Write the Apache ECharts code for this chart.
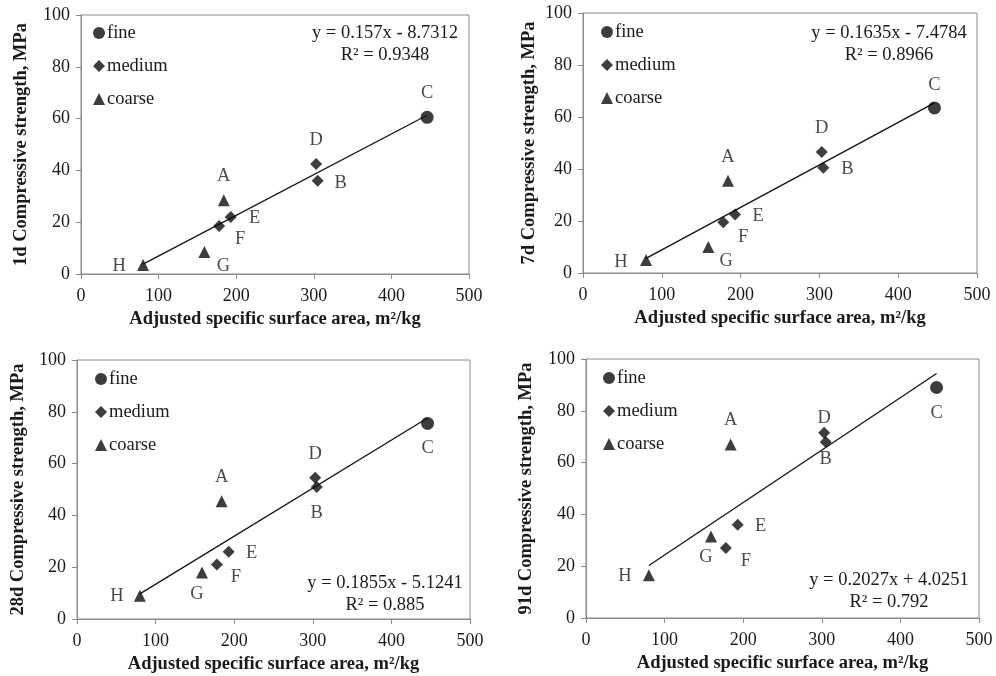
<!DOCTYPE html>
<html>
<head>
<meta charset="utf-8">
<script src="https://cdn.jsdelivr.net/npm/echarts@6/dist/echarts.min.js"></script>
<style>
  html, body { margin: 0; padding: 0; background: #fff; }
  #chart { width: 996px; height: 676px; }
</style>
</head>
<body>
<div id="chart"></div>
<script>
// Mixes A–H: adjusted specific surface area (m²/kg) and grading class
const mixes = ['A', 'B', 'C', 'D', 'E', 'F', 'G', 'H'];
const surfaceArea = [184, 305, 446, 303, 193, 178, 159, 80];
const grading = ['coarse', 'medium', 'fine', 'medium', 'medium', 'medium', 'coarse', 'coarse'];

// Compressive strength (MPa) at each age
const ages = ['1d', '7d', '28d', '91d'];
const strength1d = [28.5, 36, 60.5, 42.5, 22, 18.5, 8.5, 3.5];
const strength7d = [35.5, 40.5, 63.5, 46.5, 22.5, 19.5, 10, 5];
const strength28d = [45.5, 51, 75.5, 54.5, 26, 21, 18, 9];
const strength91d = [67, 68, 89, 71.5, 36, 27, 31.5, 16.5];

// Linear fits reported for each age
const fitSlope = [0.157, 0.1635, 0.1855, 0.2027];
const fitIntercept = [-8.7312, -7.4784, -5.1241, 4.0251];
const fitR2 = ['0.9348', '0.8966', '0.885', '0.792'];

// Axis ticks
const xTicks = { min: 0, max: 500, interval: 100 };
const yTicks = { min: 0, max: 100, interval: 20 };

const strengths = [strength1d, strength7d, strength28d, strength91d];
const classes = ['fine', 'medium', 'coarse'];
const symbols = { fine: 'circle', medium: 'diamond', coarse: 'triangle' };
const symbolSizes = { fine: 13, medium: 12, coarse: 12 };

// Panel layout: plot rectangle, legend corner, equation anchor, y-title gap, letter offsets
const panels = [
  { grid: { left: 81, top: 15, width: 388, height: 259 }, legend: [93, 23], eq: [385, 22], yGap: 50,
    offsets: { A: [0, -24], B: [23, 2], C: [0, -24], D: [0, -24], E: [24, 1], F: [21, 13], G: [19, 14], H: [-24, 1] } },
  { grid: { left: 583, top: 13, width: 394, height: 260 }, legend: [601, 22], eq: [889, 22], yGap: 44,
    offsets: { A: [0, -24], B: [24, 1], C: [0, -23], D: [0, -24], E: [23, 2], F: [20, 15], G: [18, 14], H: [-25, 2] } },
  { grid: { left: 77, top: 360, width: 393, height: 259 }, legend: [95, 369], eq: [385, 572], yGap: 49,
    offsets: { A: [0, -24], B: [0, 26], C: [0, 25], D: [0, -24], E: [23, 1], F: [19, 13], G: [-5, 22], H: [-23, 0] } },
  { grid: { left: 586, top: 359, width: 393, height: 259 }, legend: [603, 368], eq: [889, 569], yGap: 50,
    offsets: { A: [0, -24], B: [0, 17], C: [0, 26], D: [0, -15], E: [23, 1], F: [20, 13], G: [-5, 21], H: [-24, 1] } }
];

const FONT = '"Liberation Serif", "Times New Roman", serif';
const INK = '#1a1a1a';
const FRAME = '#8a8a8a';
const TEXT_SIZE = 18.5;

function equationText(i) {
  const sign = fitIntercept[i] < 0 ? '-' : '+';
  return 'y = ' + fitSlope[i] + 'x ' + sign + ' ' + Math.abs(fitIntercept[i]) +
    '\nR\u00B2 = ' + fitR2[i];
}

const grids = [], xAxes = [], yAxes = [], series = [], legends = [], titles = [];

panels.forEach((p, i) => {
  grids.push(Object.assign({ show: true, borderColor: FRAME, borderWidth: 1, backgroundColor: 'transparent' }, p.grid));

  xAxes.push({
    type: 'value', gridIndex: i, min: xTicks.min, max: xTicks.max, interval: xTicks.interval,
    name: 'Adjusted specific surface area, m\u00B2/kg', nameLocation: 'middle', nameGap: 36,
    nameTextStyle: { fontFamily: FONT, fontSize: TEXT_SIZE, fontWeight: 'bold', color: INK },
    axisLine: { show: true, lineStyle: { color: FRAME, width: 1 } },
    axisTick: { show: true, inside: false, length: 5, lineStyle: { color: FRAME } },
    axisLabel: { fontFamily: FONT, fontSize: 18, color: INK, margin: 13 },
    splitLine: { show: false }
  });

  yAxes.push({
    type: 'value', gridIndex: i, min: yTicks.min, max: yTicks.max, interval: yTicks.interval,
    name: ages[i] + ' Compressive strength, MPa', nameLocation: 'middle', nameGap: p.yGap, nameRotate: 90,
    nameTextStyle: { fontFamily: FONT, fontSize: TEXT_SIZE, fontWeight: 'bold', color: INK },
    axisLine: { show: true, lineStyle: { color: FRAME, width: 1 } },
    axisTick: { show: true, inside: false, length: 5, lineStyle: { color: FRAME } },
    axisLabel: { fontFamily: FONT, fontSize: 18, color: INK, margin: 11 },
    splitLine: { show: false }
  });

  const ys = strengths[i];
  classes.forEach(cls => {
    const data = [];
    mixes.forEach((m, k) => {
      if (grading[k] !== cls) return;
      data.push({
        name: m,
        value: [surfaceArea[k], ys[k]],
        label: { offset: p.offsets[m] }
      });
    });
    series.push({
      type: 'scatter', name: cls, xAxisIndex: i, yAxisIndex: i,
      symbol: symbols[cls], symbolSize: symbolSizes[cls],
      itemStyle: { color: '#0d0d0d' },
      label: { show: true, position: 'inside', formatter: '{b}', fontFamily: FONT, fontSize: TEXT_SIZE, color: INK },
      emphasis: { disabled: true },
      data: data, z: 3
    });
  });

  // Trend line spanning the measured surface-area range
  const xMin = Math.min(...surfaceArea), xMax = Math.max(...surfaceArea);
  series.push({
    type: 'line', name: 'fit' + ages[i], xAxisIndex: i, yAxisIndex: i,
    showSymbol: false, symbol: 'none', silent: true,
    lineStyle: { color: '#111', width: 1.3 },
    data: [[xMin, fitSlope[i] * xMin + fitIntercept[i]], [xMax, fitSlope[i] * xMax + fitIntercept[i]]],
    z: 2
  });

  legends.push({
    orient: 'vertical', left: p.legend[0], top: p.legend[1], padding: 0,
    itemWidth: 12, itemHeight: 12, itemGap: 13, selectedMode: false,
    textStyle: { fontFamily: FONT, fontSize: TEXT_SIZE, color: INK, lineHeight: 20, padding: [0, 0, 0, -3] },
    data: classes.map(c => ({ name: c, icon: symbols[c], itemStyle: { color: '#0d0d0d' } }))
  });

  titles.push({
    text: equationText(i), left: p.eq[0], top: p.eq[1], textAlign: 'center', padding: 0,
    textStyle: { fontFamily: FONT, fontSize: TEXT_SIZE, fontWeight: 'normal', color: INK, lineHeight: 22 }
  });
});

const chart = echarts.init(document.getElementById('chart'), null, { renderer: 'canvas' });
chart.setOption({
  animation: false,
  backgroundColor: '#fff',
  title: titles,
  legend: legends,
  grid: grids,
  xAxis: xAxes,
  yAxis: yAxes,
  series: series
});
</script>
</body>
</html>
